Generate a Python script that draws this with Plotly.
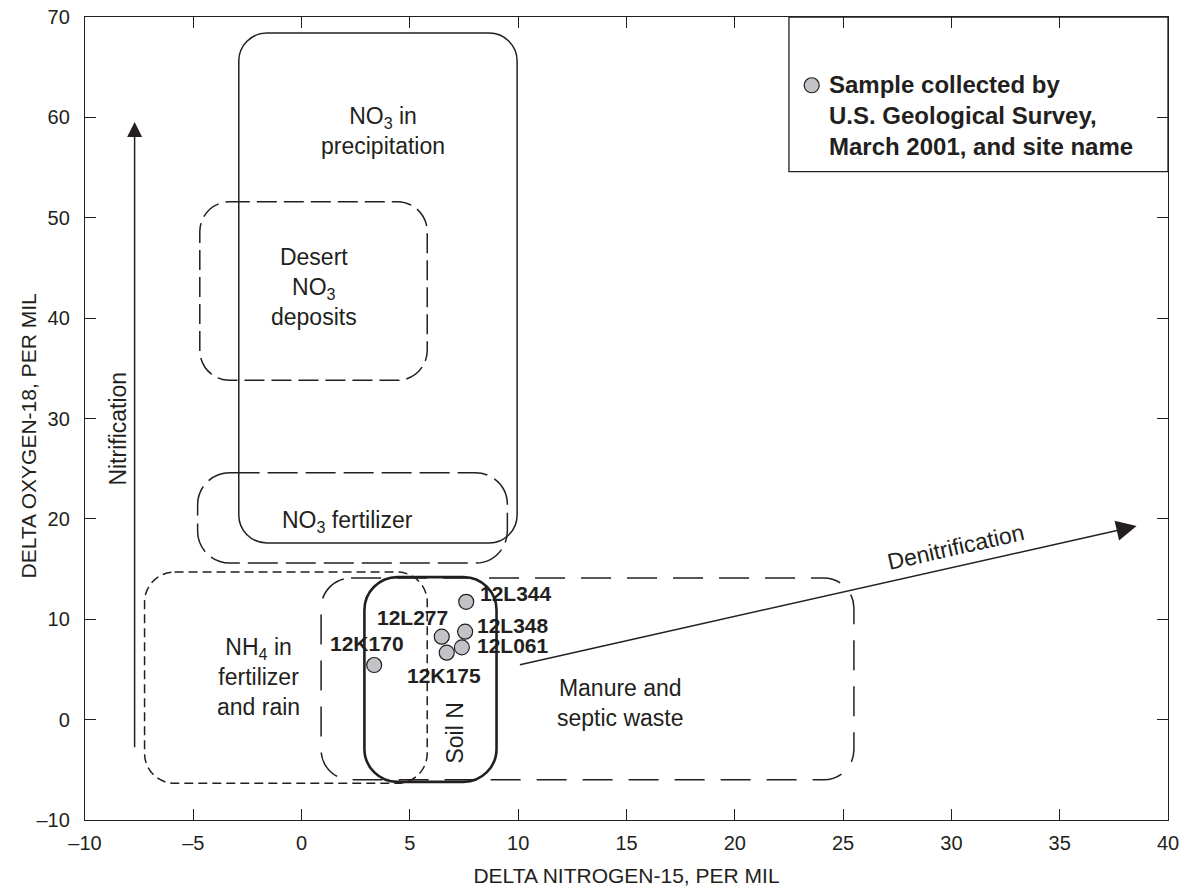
import math
import plotly.graph_objects as go

# ---------------- axes ----------------
x_range = [-10, 40]
y_range = [-10, 70]
x_tickvals = [-10, -5, 0, 5, 10, 15, 20, 25, 30, 35, 40]
x_ticktext = ["\u201310", "\u20135", "0", "5", "10", "15", "20", "25", "30", "35", "40"]
y_tickvals = [-10, 0, 10, 20, 30, 40, 50, 60, 70]
y_ticktext = ["\u201310", "0", "10", "20", "30", "40", "50", "60", "70"]
x_title = "DELTA NITROGEN-15, PER MIL"
y_title = "DELTA OXYGEN-18, PER MIL"

# ---------------- samples ----------------
site_names = ["12L344", "12L277", "12L348", "12L061", "12K175", "12K170"]
delta_n15 = [7.60, 6.47, 7.55, 7.40, 6.70, 3.35]
delta_o18 = [11.74, 8.26, 8.76, 7.20, 6.67, 5.44]
site_label_x = [8.15, 6.86, 8.01, 8.01, 6.58, 4.83]
site_label_y = [12.6, 10.22, 9.42, 7.35, 4.44, 7.63]
site_label_anchor = ["left", "right", "left", "left", "center", "right"]

# ---------------- source regions ----------------
region_names = ["precipitation", "desert", "no3_fert", "nh4", "manure", "soil"]
region_x0 = [-2.90, -4.70, -4.80, -7.25, 0.90, 2.90]
region_x1 = [9.95, 5.80, 9.50, 5.80, 25.50, 9.00]
region_y0 = [17.6, 33.8, 15.6, -6.35, -6.0, -6.2]
region_y1 = [68.4, 51.6, 24.6, 14.7, 14.1, 14.2]
region_dash = ["solid", "20px,7px", "30px,8px", "9px,5px", "30px,16px", "solid"]
region_width = [1.5, 1.5, 1.5, 1.5, 1.5, 2.6]
region_radius_px = [28, 30, 32, 30, 30, 33]

region_label_text = ["NO<sub>3</sub> in<br>precipitation",
                     "Desert<br>NO<sub>3</sub><br>deposits",
                     "NO<sub>3</sub> fertilizer",
                     "NH<sub>4</sub> in<br>fertilizer<br>and rain",
                     "Manure and<br>septic waste",
                     "Soil N"]
region_label_x = [3.77, 0.55, 2.13, -1.99, 14.7, 7.09]
region_label_y = [58.6, 43.1, 19.7, 4.24, 1.70, -1.37]
region_label_angle = [0, 0, 0, 0, 0, -90]

# ---------------- processes (arrows) ----------------
process_names = ["Nitrification", "Denitrification"]
arrow_x0 = [-7.71, 10.01]
arrow_y0 = [-2.9, 5.44]
arrow_x1 = [-7.71, 38.55]
arrow_y1 = [59.55, 19.28]
arrow_size = [2.0, 2.7]
process_label_x = [-8.52, 30.2]
process_label_y = [29.0, 17.2]

# ---------------- legend ----------------
legend_box_x = [22.5, 40.0]
legend_box_y = [54.6, 70.0]
legend_marker_x = [23.55]
legend_marker_y = [63.2]
legend_text = "Sample collected by<br>U.S. Geological Survey,<br>March 2001, and site name"
legend_text_x = 24.25
legend_text_y = 60.2

# ---------------- layout geometry ----------------
W, H = 1182, 893
M = dict(l=85, r=14, t=17, b=73)
XS = (W - M["l"] - M["r"]) / (x_range[1] - x_range[0])
YS = (H - M["t"] - M["b"]) / (y_range[1] - y_range[0])

INK = "#231f20"
FONT = "Liberation Sans, Arial, Helvetica, sans-serif"


def rounded_path(x0, x1, y0, y1, r):
    rx, ry, k = r / XS, r / YS, 0.5523
    return (f"M{x0+rx},{y1} L{x1-rx},{y1} "
            f"C{x1-rx+k*rx},{y1} {x1},{y1-ry+k*ry} {x1},{y1-ry} "
            f"L{x1},{y0+ry} "
            f"C{x1},{y0+ry-k*ry} {x1-rx+k*rx},{y0} {x1-rx},{y0} "
            f"L{x0+rx},{y0} "
            f"C{x0+rx-k*rx},{y0} {x0},{y0+ry-k*ry} {x0},{y0+ry} "
            f"L{x0},{y1-ry} "
            f"C{x0},{y1-ry+k*ry} {x0+rx-k*rx},{y1} {x0+rx},{y1} Z")


fig = go.Figure()

shapes = []
for i in range(len(region_names)):
    shapes.append(dict(type="path",
                       path=rounded_path(region_x0[i], region_x1[i], region_y0[i], region_y1[i], region_radius_px[i]),
                       xref="x", yref="y", layer="below",
                       line=dict(color=INK, width=region_width[i], dash=region_dash[i])))
shapes.append(dict(type="rect", xref="x", yref="y",
                   x0=legend_box_x[0], x1=legend_box_x[1], y0=legend_box_y[0], y1=legend_box_y[1],
                   line=dict(color=INK, width=1.3), layer="below"))

# samples
fig.add_trace(go.Scatter(x=delta_n15, y=delta_o18, mode="markers",
                         marker=dict(size=15, color="#c3c3c7", line=dict(color=INK, width=1.2)),
                         hoverinfo="text", text=site_names, showlegend=False))
fig.add_trace(go.Scatter(x=legend_marker_x, y=legend_marker_y, mode="markers",
                         marker=dict(size=15, color="#c3c3c7", line=dict(color=INK, width=1.2)),
                         hoverinfo="skip", showlegend=False))

annotations = []
for i, name in enumerate(site_names):
    annotations.append(dict(x=site_label_x[i], y=site_label_y[i], text=f"<b>{name}</b>",
                            showarrow=False, xanchor=site_label_anchor[i], yanchor="middle",
                            font=dict(family=FONT, size=21, color=INK)))
for i in range(len(region_names)):
    annotations.append(dict(x=region_label_x[i], y=region_label_y[i], text=region_label_text[i],
                            showarrow=False, xanchor="center", yanchor="middle",
                            textangle=region_label_angle[i], align="center",
                            font=dict(family=FONT, size=23, color=INK)))
for i, name in enumerate(process_names):
    annotations.append(dict(x=arrow_x1[i], y=arrow_y1[i], ax=arrow_x0[i], ay=arrow_y0[i],
                            xref="x", yref="y", axref="x", ayref="y", text="",
                            showarrow=True, arrowhead=2, arrowsize=arrow_size[i],
                            arrowwidth=1.5, arrowcolor=INK, standoff=0))
    ang = -math.degrees(math.atan2((arrow_y1[i] - arrow_y0[i]) * YS, (arrow_x1[i] - arrow_x0[i]) * XS))
    annotations.append(dict(x=process_label_x[i], y=process_label_y[i], text=name,
                            showarrow=False, xanchor="center", yanchor="middle", textangle=ang,
                            font=dict(family=FONT, size=23, color=INK)))
annotations.append(dict(x=legend_text_x, y=legend_text_y, text=f"<b>{legend_text}</b>",
                        showarrow=False, xanchor="left", yanchor="middle", align="left",
                        font=dict(family=FONT, size=24, color=INK)))
# y-axis title placed as a paper annotation for exact positioning
annotations.append(dict(x=0, y=0.5, xref="paper", yref="paper", text=y_title,
                        showarrow=False, textangle=-90, xanchor="center", yanchor="middle",
                        xshift=28 - M["l"], yshift=-18,
                        font=dict(family=FONT, size=21, color=INK)))

axis_common = dict(showline=True, linecolor=INK, linewidth=1.3, mirror="ticks",
                   ticks="inside", ticklen=11, tickwidth=1.3, tickcolor=INK,
                   showgrid=False, zeroline=False, automargin=False,
                   tickfont=dict(family=FONT, size=20, color=INK))

fig.update_layout(
    width=W, height=H, margin=M,
    paper_bgcolor="white", plot_bgcolor="white",
    shapes=shapes, annotations=annotations, showlegend=False,
    xaxis=dict(range=x_range, tickmode="array", tickvals=x_tickvals, ticktext=x_ticktext,
               ticklabelstandoff=5,
               title=dict(text=x_title, font=dict(family=FONT, size=21, color=INK), standoff=15),
               **axis_common),
    yaxis=dict(range=y_range, tickmode="array", tickvals=y_tickvals, ticktext=y_ticktext,
               ticklabelstandoff=10,
               **axis_common),
)

fig.write_html("out.html", config={"displayModeBar": False},
               post_script="document.body.style.margin='0';document.body.style.overflow='hidden';")
